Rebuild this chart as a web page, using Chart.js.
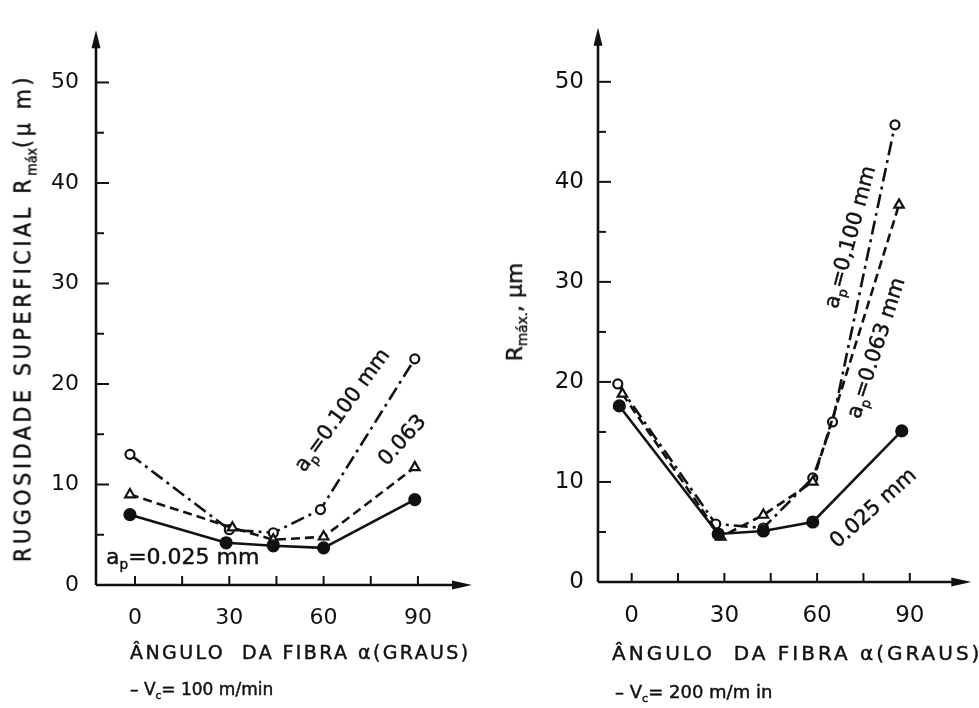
<!DOCTYPE html>
<html lang="pt">
<head>
<meta charset="utf-8">
<title>Rugosidade x ângulo da fibra</title>
<script src="https://cdn.jsdelivr.net/npm/chart.js@4.4.0/dist/chart.umd.min.js"></script>
<style>
  html, body { margin: 0; padding: 0; background: #fff; }
  body { width: 979px; height: 708px; position: relative; overflow: hidden;
         font-family: "DejaVu Sans", sans-serif; color: #111; }
  canvas { position: absolute; top: 0; }
  #graf-esq { left: 0; }
  #graf-dir { left: 490px; }
  .txt { position: absolute; white-space: nowrap; line-height: 1; -webkit-text-stroke: 0.45px #111; }
  .rot { transform-origin: center center; }
  sub { font-size: 0.62em; vertical-align: -0.4em; line-height: 0; letter-spacing: 0; }
</style>
</head>
<body>
<canvas id="graf-esq" width="490" height="708"></canvas>
<canvas id="graf-dir" width="489" height="708"></canvas>

<!-- titulos dos eixos -->
<div class="txt rot" style="left:23px; top:318px; font-size:23px; letter-spacing:3.6px;
     transform: translate(-50%,-50%) rotate(-90deg); font-family:'DejaVu Sans Condensed','DejaVu Sans',sans-serif;">RUGOSIDADE SUPERFICIAL R<sub>máx</sub>(μ m)</div>
<div class="txt rot" style="left:515px; top:312px; font-size:22px;
     transform: translate(-50%,-50%) rotate(-90deg);">R<sub>máx.</sub>, μm</div>

<div class="txt" style="left:130px; top:643px; font-size:19px; letter-spacing:2.4px;">ÂNGULO&nbsp; DA FIBRA α(GRAUS)</div>
<div class="txt" style="left:130px; top:681px; font-size:17px;">– V<sub>c</sub>= 100 m/min</div>
<div class="txt" style="left:612px; top:643px; font-size:20px; letter-spacing:3px;">ÂNGULO&nbsp; DA FIBRA α(GRAUS)</div>
<div class="txt" style="left:615px; top:683px; font-size:18px;">– V<sub>c</sub>= 200 m/m in</div>

<!-- rotulos das curvas -->
<div class="txt rot" style="left:342px; top:410px; font-size:21px; transform: translate(-50%,-50%) rotate(-54deg);">a<sub>p</sub>=0.100 mm</div>
<div class="txt rot" style="left:402px; top:440px; font-size:21px; transform: translate(-50%,-50%) rotate(-48deg);">0.063</div>
<div class="txt" style="left:106px; top:546px; font-size:22px;">a<sub>p</sub>=0.025 mm</div>

<div class="txt rot" style="left:850px; top:237px; font-size:21px; transform: translate(-50%,-50%) rotate(-75deg);">a<sub>p</sub>=0,100 mm</div>
<div class="txt rot" style="left:876px; top:348px; font-size:21px; transform: translate(-50%,-50%) rotate(-72deg);">a<sub>p</sub>=0.063 mm</div>
<div class="txt rot" style="left:873px; top:508px; font-size:21px; transform: translate(-50%,-50%) rotate(-42deg);">0.025 mm</div>

<script>
// ---- Dados: Vc = 100 m/min ----
const angEsq025 = [-1.6, 29, 44, 60, 89];
const rmaxEsq025 = [7.0, 4.2, 3.9, 3.7, 8.5];
const angEsq063 = [-1.6, 31, 44, 60, 89];
const rmaxEsq063 = [9.0, 5.7, 4.5, 4.8, 11.7];
const angEsq100 = [-1.6, 30, 44, 59, 89];
const rmaxEsq100 = [13.0, 5.5, 5.2, 7.5, 22.5];

// ---- Dados: Vc = 200 m/min ----
const angDir025 = [-4, 28, 42.6, 58.6, 87.4];
const rmaxDir025 = [17.6, 4.8, 5.1, 6.0, 15.1];
const angDir063 = [-3, 28.8, 42.6, 58.6, 86.5];
const rmaxDir063 = [18.8, 4.5, 6.7, 10.0, 37.7];
const angDir100 = [-4.5, 27.2, 42.6, 58.6, 65, 85.2];
const rmaxDir100 = [19.8, 5.8, 5.4, 10.4, 16.0, 45.7];

// marcas dos eixos
const xLabels = [0, 30, 60, 90];
const xMarks = [0, 15, 30, 45, 60, 75, 90];
const yLabels = [0, 10, 20, 30, 40, 50];
const yMarks = [0, 5, 10, 15, 20, 25, 30, 35, 40, 45, 50];

const INK = '#111';

function pts(xs, ys) {
    return xs.map((x, i) => ({ x: x, y: ys[i] }));
}

// Eixos com setas e marcas para dentro (estilo de desenho técnico)
const eixosPlugin = {
    id: 'eixos',
    afterDraw(chart) {
        const { ctx, chartArea: a, scales: { x, y } } = chart;
        const x0 = a.left, y0 = a.bottom;
        ctx.save();
        ctx.strokeStyle = INK;
        ctx.fillStyle = INK;
        ctx.lineWidth = 2.6;
        ctx.beginPath();
        ctx.moveTo(x0, y0);
        ctx.lineTo(x0, a.top + 10);
        ctx.moveTo(x0, y0);
        ctx.lineTo(a.right - 10, y0);
        ctx.stroke();

        // setas
        ctx.beginPath();
        ctx.moveTo(x0, a.top);
        ctx.lineTo(x0 - 4.5, a.top + 18);
        ctx.lineTo(x0 + 4.5, a.top + 18);
        ctx.closePath();
        ctx.fill();
        ctx.beginPath();
        ctx.moveTo(a.right, y0);
        ctx.lineTo(a.right - 20, y0 - 4.5);
        ctx.lineTo(a.right - 20, y0 + 4.5);
        ctx.closePath();
        ctx.fill();

        ctx.lineWidth = 2;
        yMarks.forEach(v => {
            const py = y.getPixelForValue(v);
            const len = v % 10 === 0 ? 13 : 8;
            ctx.beginPath();
            ctx.moveTo(x0, py);
            ctx.lineTo(x0 + len, py);
            ctx.stroke();
        });
        xMarks.forEach(v => {
            const px = x.getPixelForValue(v);
            ctx.beginPath();
            ctx.moveTo(px, y0);
            ctx.lineTo(px, y0 - 9);
            ctx.stroke();
        });
        ctx.restore();
    }
};

function serie(data, estilo) {
    return Object.assign({
        data: data,
        borderColor: INK,
        borderWidth: 2.6,
        pointBorderColor: INK,
        pointBorderWidth: 2.2,
        pointBackgroundColor: '#fff',
        showLine: true,
        tension: 0,
        clip: false
    }, estilo);
}

function montaGrafico(id, conj, cfg) {
    const fonte = { family: 'DejaVu Sans', size: cfg.tickSize };
    return new Chart(document.getElementById(id), {
        type: 'scatter',
        data: {
            datasets: [
                serie(pts(conj.a025, conj.r025), { pointStyle: 'circle', pointRadius: 5.5, pointBackgroundColor: INK }),
                serie(pts(conj.a063, conj.r063), { pointStyle: 'triangle', pointRadius: 5.5, borderDash: [9, 5] }),
                serie(pts(conj.a100, conj.r100), { pointStyle: 'circle', pointRadius: 4.5, borderDash: [14, 5, 3, 5] })
            ]
        },
        options: {
            responsive: false,
            animation: false,
            devicePixelRatio: 1,
            layout: { padding: cfg.padding },
            plugins: { legend: { display: false }, tooltip: { enabled: false } },
            scales: {
                x: {
                    type: 'linear',
                    min: cfg.xMin,
                    max: cfg.xMax,
                    grid: { display: false, drawTicks: false },
                    border: { display: false },
                    afterBuildTicks: s => { s.ticks = xLabels.map(v => ({ value: v })); },
                    afterFit: s => { s.height = 45; },
                    ticks: { color: INK, font: fonte, padding: cfg.xPad, maxRotation: 0 }
                },
                y: {
                    type: 'linear',
                    min: 0,
                    max: cfg.yMax,
                    grid: { display: false, drawTicks: false },
                    border: { display: false },
                    afterBuildTicks: s => { s.ticks = yLabels.map(v => ({ value: v })); },
                    afterFit: s => { s.width = cfg.yWidth; },
                    ticks: { color: INK, font: fonte, padding: cfg.yPad }
                }
            }
        },
        plugins: [eixosPlugin]
    });
}

montaGrafico('graf-esq',
    { a025: angEsq025, r025: rmaxEsq025, a063: angEsq063, r063: rmaxEsq063, a100: angEsq100, r100: rmaxEsq100 },
    { xMin: -12.4, xMax: 107.2, yMax: 55.2, yWidth: 96, tickSize: 22, xPad: 20, yPad: 17,
      padding: { top: 25, right: 18, bottom: 78, left: 0 } });

montaGrafico('graf-dir',
    { a025: angDir025, r025: rmaxDir025, a063: angDir063, r063: rmaxDir063, a100: angDir100, r100: rmaxDir100 },
    { xMin: -10.9, xMax: 109.9, yMax: 55.4, yWidth: 108, tickSize: 23, xPad: 20, yPad: 14,
      padding: { top: 18, right: 4, bottom: 81, left: 0 } });
</script>
</body>
</html>
